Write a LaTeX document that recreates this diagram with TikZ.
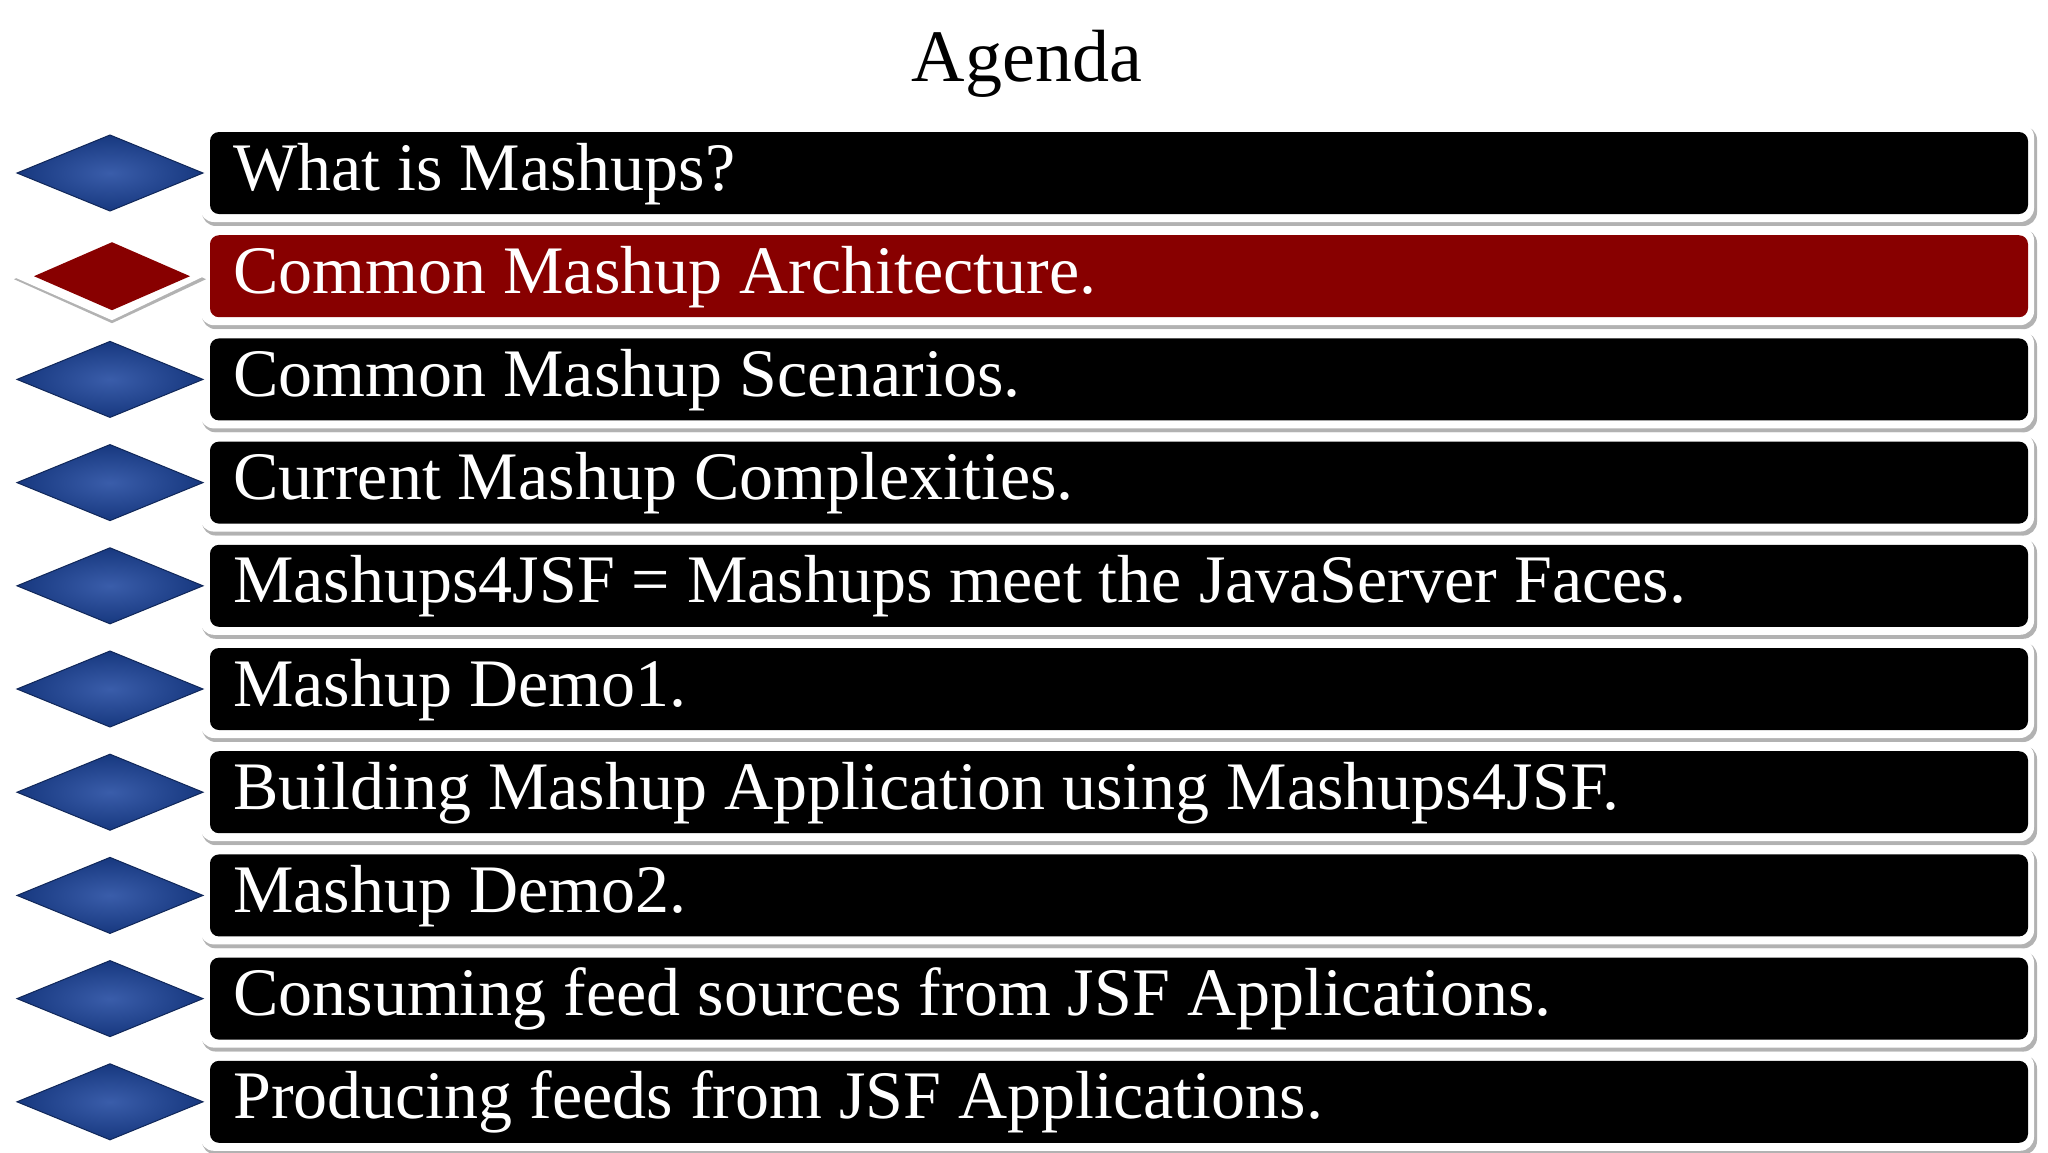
\documentclass[tikz,border=0pt]{standalone}
\usepackage{fontspec}
\setmainfont{Liberation Serif}
\definecolor{dblue}{HTML}{17387F}
\definecolor{lblue}{HTML}{3A5DAA}
\definecolor{dred}{HTML}{880000}
\tikzset{
  barshadow/.style={fill=black!30,rounded corners=14pt},
  barwhite/.style={fill=white,rounded corners=14pt},
  barbox/.style={rounded corners=9pt,fill=black},
  bartext/.style={anchor=base west,text=white,font=\fontsize{68}{72}\selectfont,inner sep=0pt},
  dia/.style={draw=dblue!70!black,line width=1pt,inner color=lblue,outer color=dblue}
}
\begin{document}
\begin{tikzpicture}[x=1pt,y=-1pt]
\useasboundingbox (0,0) rectangle (2048,1152);
\fill[white] (0,0) rectangle (2048,1152);
\node[font=\fontsize{74}{80}\selectfont] (title) at (1027,64) {Agenda};
\foreach \t [count=\i from 0] in {What is Mashups?,Common Mashup Architecture.,Common Mashup Scenarios.,Current Mashup Complexities.,Mashups4JSF = Mashups meet the JavaServer Faces.,Mashup Demo1.,Building Mashup Application using Mashups4JSF.,Mashup Demo2.,Consuming feed sources from JSF Applications.,Producing feeds from JSF Applications.}{
  \pgfmathsetmacro{\yc}{173+103.2*\i}
  \fill[barshadow] (202,\yc-47) rectangle (2037,\yc+53);
  \fill[barwhite] (200,\yc-50) rectangle (2034,\yc+49);
  \ifnum\i=1
    \fill[barbox,fill=dred] (210,\yc-41) rectangle (2028,\yc+41);
    \fill[black!30] (14,\yc+3) -- (112,\yc-41) -- (206,\yc+3) -- (112,\yc+47) -- cycle;
    \fill[white] (12,\yc) -- (112,\yc-44) -- (204,\yc) -- (112,\yc+44) -- cycle;
    \fill[dred] (34,\yc) -- (112,\yc-34) -- (190,\yc) -- (112,\yc+34) -- cycle;
  \else
    \fill[barbox] (210,\yc-41) rectangle (2028,\yc+41);
    \shade[dia] (17,\yc) -- (110,\yc-38) -- (203,\yc) -- (110,\yc+38) -- cycle;
  \fi
  \node[bartext] (t\i) at (233,\yc+17) {\t};
}
\end{tikzpicture}
\end{document}
